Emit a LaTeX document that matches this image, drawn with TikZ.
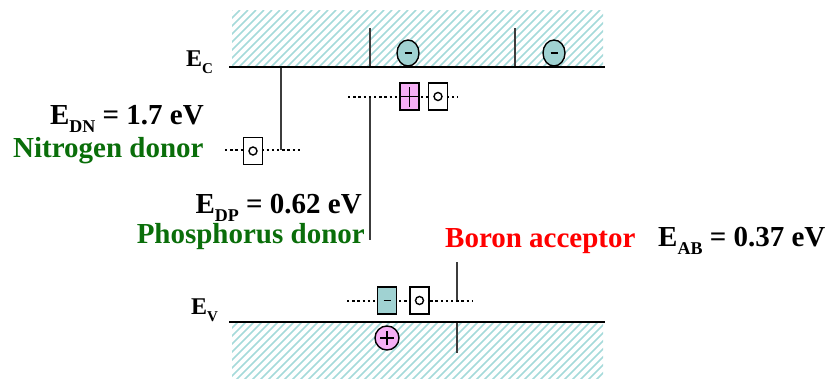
\documentclass[tikz,border=0pt]{standalone}
\usepackage{fontspec}
\setmainfont{Liberation Serif}
\usetikzlibrary{shapes.geometric}
\definecolor{hatchc}{RGB}{165,218,218}
\definecolor{tealfill}{RGB}{160,210,210}
\definecolor{pinkfill}{RGB}{245,175,245}
\definecolor{donorgreen}{RGB}{10,110,10}
\definecolor{tiec}{RGB}{60,60,60}
\newcommand\subDN[1]{\smash{\raisebox{-8pt}{\fontsize{18}{18}\selectfont #1}}}
\newcommand\subEC[1]{\smash{\raisebox{-7pt}{\fontsize{15}{15}\selectfont #1}}}
\begin{document}
\begin{tikzpicture}[x=1pt,y=-1pt,
  hatch/.style={draw=hatchc, line width=1.6pt},
  bandedge/.style={line width=2.8pt, black},
  lvl/.style={line width=2.4pt, dash pattern=on 2.4pt off 2.8pt},
  tie/.style={line width=1.6pt, draw=tiec},
  ebox/.style={draw, line width=1.4pt, minimum width=19pt, minimum height=27pt, inner sep=0pt},
  big/.style={font=\fontsize{29}{30}\selectfont\bfseries, inner sep=0pt},
  small/.style={font=\fontsize{24}{25}\selectfont\bfseries, inner sep=0pt},
  carrier/.style={ellipse, draw, line width=1.4pt, fill=tealfill, minimum width=22pt, minimum height=26pt, inner sep=0pt},
  hole/.style={circle, draw, line width=1.4pt, fill=pinkfill, minimum size=24pt, inner sep=0pt},
  minussym/.style={path picture={\draw[line width=1.8pt] ([xshift=-3.5pt]path picture bounding box.center) -- ([xshift=3.5pt]path picture bounding box.center);}},
  plussym/.style={path picture={\draw[line width=1.6pt] ([xshift=-7pt]path picture bounding box.center) -- ([xshift=7pt]path picture bounding box.center) ([yshift=-7pt]path picture bounding box.center) -- ([yshift=7pt]path picture bounding box.center);}},
  boxplus/.style={path picture={\draw[line width=1.6pt] ([xshift=-10pt]path picture bounding box.center) -- ([xshift=10pt]path picture bounding box.center) ([yshift=-10pt]path picture bounding box.center) -- ([yshift=10pt]path picture bounding box.center);}},
  osym/.style={path picture={\draw[line width=1.4pt] (path picture bounding box.center) circle[radius=4pt];}},
]
\useasboundingbox (0,0) rectangle (831,378);

% hatched bands
\begin{scope}
  \clip (232,10) rectangle (603,67);
  \foreach \k in {0,...,60} \draw[hatch] (172+\k*8,70) -- (232+\k*8,10);
\end{scope}
\begin{scope}
  \clip (232,322) rectangle (603,378);
  \foreach \k in {0,...,60} \draw[hatch] (172+\k*8,380) -- (232+\k*8,320);
\end{scope}

% coordinates
\coordinate (ecL) at (229,67);
\coordinate (ecR) at (605,67);
\coordinate (evL) at (229,322);
\coordinate (evR) at (605,322);
\coordinate (nL) at (225,150);
\coordinate (nR) at (302,150);
\coordinate (pL) at (348,97);
\coordinate (pR) at (458,97);
\coordinate (bL) at (347,301);
\coordinate (bR) at (473,301);
\coordinate (tN1) at (281,67);
\coordinate (tN2) at (281,150);
\coordinate (tP1) at (370,97);
\coordinate (tP2) at (370,240);
\coordinate (tc1a) at (370,28);
\coordinate (tc1b) at (370,67);
\coordinate (tc2a) at (515,28);
\coordinate (tc2b) at (515,67);
\coordinate (tb1) at (457,262);
\coordinate (tb2) at (457,301);
\coordinate (tb3) at (457,322);
\coordinate (tb4) at (457,353);

% tie lines
\draw[tie] (tN1) -- (tN2);
\draw[tie] (tP1) -- (tP2);
\draw[tie] (tc1a) -- (tc1b);
\draw[tie] (tc2a) -- (tc2b);
\draw[tie] (tb1) -- (tb2);
\draw[tie] (tb3) -- (tb4);

% dotted levels
\draw[lvl] (nL) -- (nR);
\draw[lvl] (pL) -- (pR);
\draw[lvl] (bL) -- (bR);

% band edges
\draw[bandedge] (ecL) -- (ecR);
\draw[bandedge] (evL) -- (evR);

% carriers
\node[carrier, minussym] (el1) at (408,53) {};
\node[carrier, minussym] (el2) at (554,53) {};
\node[hole, plussym] (h1) at (387,338) {};

% boxes
\node[ebox, fill=white, osym] (nbox) at (253,151) {};
\node[ebox, fill=pinkfill, boxplus] (pbox1) at (409.5,96.5) {};
\node[ebox, fill=white, osym] (pbox2) at (438,96.5) {};
\node[ebox, fill=tealfill, minussym] (bbox1) at (387,300.5) {};
\node[ebox, fill=white, osym] (bbox2) at (419.5,300.5) {};

% labels
\node[small, anchor=base west] (ec) at (186,66) {E\subEC{C}};
\node[small, anchor=base west] (ev) at (191,314) {E\subEC{V}};
\node[big, anchor=base east] (edn) at (204,124) {E\subDN{DN} = 1.7 eV};
\node[big, anchor=base west, text=donorgreen] (nd) at (13,157) {Nitrogen donor};
\node[big, anchor=base east] (edp) at (362,213) {E\subDN{DP} = 0.62 eV};
\node[big, anchor=base east, text=donorgreen] (pd) at (365,243) {Phosphorus donor};
\node[big, anchor=base west, text=red] (ba) at (445,247) {Boron acceptor};
\node[big, anchor=base west] (eab) at (658,246) {E\subDN{AB} = 0.37 eV};
\end{tikzpicture}
\end{document}
